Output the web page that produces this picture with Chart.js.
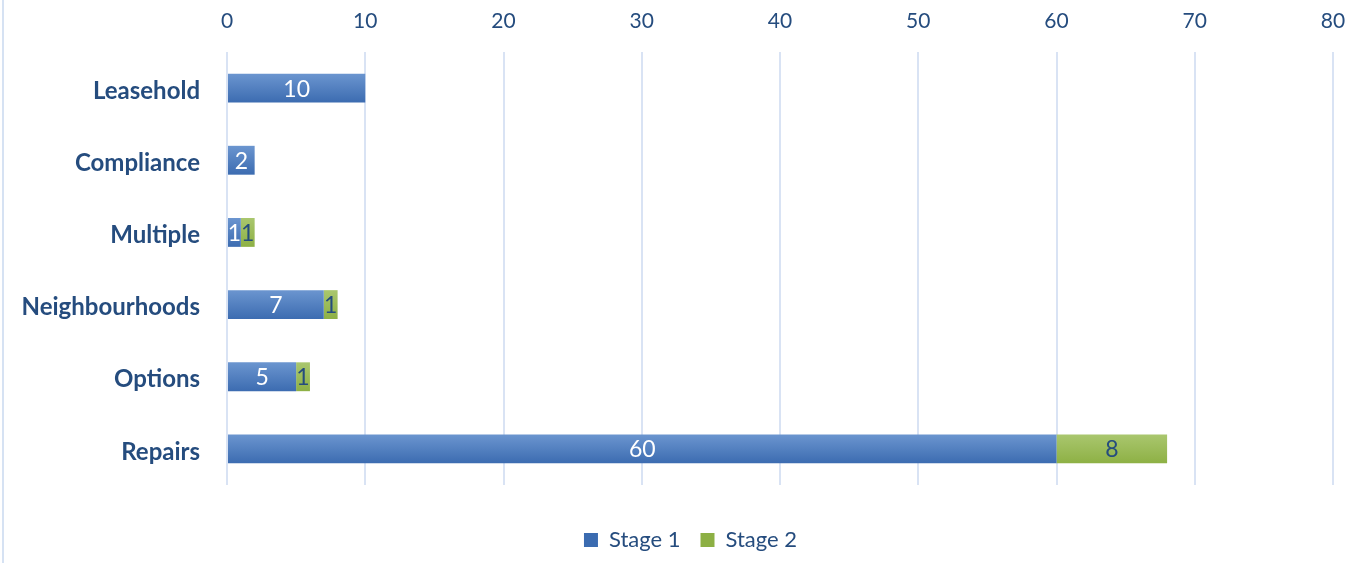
<!DOCTYPE html>
<html><head><meta charset="utf-8">
<script src="https://cdn.jsdelivr.net/npm/chart.js@4/dist/chart.umd.min.js"></script>
<style>html,body{margin:0;padding:0;background:#fff;}#wrap{width:1352px;height:563px;position:relative;}</style>
</head><body><div id="wrap"><canvas id="c" width="1352" height="563"></canvas></div>
<script>
const categories = ["Leasehold", "Compliance", "Multiple", "Neighbourhoods", "Options", "Repairs"];
const stage1 = [10, 2, 1, 7, 5, 60];
const stage2 = [0, 0, 1, 1, 1, 8];
const seriesNames = ["Stage 1", "Stage 2"];
const xTicks = [0, 10, 20, 30, 40, 50, 60, 70, 80];

const TEXT = '#254C7E';
const FONT = 'Lato';

function grad(top, bot, solid) {
  return function(ctx) {
    const chart = ctx.chart;
    if (ctx.type !== 'data' || !chart.chartArea || !chart.scales.y) return solid;
    const y = chart.scales.y.getPixelForValue(ctx.dataIndex);
    const h = 15;
    const g = chart.ctx.createLinearGradient(0, y - h, 0, y + h);
    g.addColorStop(0, top); g.addColorStop(1, bot);
    return g;
  };
}

const labelPlugin = {
  id: 'labels',
  beforeDraw(chart) {
    const c = chart.ctx; c.save();
    c.strokeStyle = '#D6E2F3'; c.lineWidth = 2;
    c.beginPath(); c.moveTo(3, 0); c.lineTo(3, chart.height); c.stroke();
    c.restore();
  },
  beforeLayout(chart) {
    const L = chart.legend;
    if (L && !L._patched) {
      const f = L.fit;
      L.fit = function() { f.call(this); this.height = 78; };
      const d = L.draw;
      L.draw = function() { const ctx = this.ctx; ctx.save(); ctx.translate(24, 24); d.call(this); ctx.restore(); };
      L._patched = true;
    }
  },
  afterDatasetsDraw(chart) {
    const c = chart.ctx; c.save();
    c.font = '23px ' + FONT; c.textAlign = 'center'; c.textBaseline = 'middle';
    chart.data.datasets.forEach((ds, di) => {
      const meta = chart.getDatasetMeta(di);
      meta.data.forEach((el, i) => {
        const v = ds.data[i];
        if (!v) return;
        c.fillStyle = di === 0 ? '#FFFFFF' : TEXT;
        c.fillText(String(v), (el.x + el.base) / 2, el.y + 1);
      });
    });
    c.restore();
  }
};

new Chart(document.getElementById('c'), {
  type: 'bar',
  data: {
    labels: categories,
    datasets: [
      { label: seriesNames[0], data: stage1, backgroundColor: grad('#6C96D0', '#3B6BB0', '#4A7BC0') },
      { label: seriesNames[1], data: stage2, backgroundColor: grad('#AAC76F', '#8DB044', '#9BBB59') }
    ]
  },
  options: {
    indexAxis: 'y',
    responsive: false,
    animation: false,
    layout: { padding: { left: 0, right: 19, top: 0, bottom: 0 } },
    datasets: { bar: { barPercentage: 0.4, categoryPercentage: 1.0 } },
    plugins: {
      legend: {
        position: 'bottom',
        labels: { boxWidth: 14, boxHeight: 14, padding: 20, color: TEXT, font: { family: FONT, size: 22 } }
      },
      tooltip: { enabled: false }
    },
    scales: {
      x: {
        position: 'top', stacked: true, min: 0, max: 80,
        afterBuildTicks(s) { s.ticks = xTicks.map(v => ({ value: v })); },
        afterFit(s) { s.height = 52; s.paddingLeft = 0; s.paddingRight = 0; },
        grid: { color: '#D9E3F4', lineWidth: 2, drawTicks: false },
        border: { display: false },
        ticks: { color: TEXT, font: { family: FONT, size: 21 }, padding: 18 }
      },
      y: {
        stacked: true,
        afterFit(s) { s.width = 227; s.paddingTop = 0; s.paddingBottom = 0; },
        grid: { display: false, drawTicks: false },
        border: { display: false },
        ticks: { color: TEXT, font: { family: FONT, size: 24, weight: 'bold' }, padding: 27, labelOffset: 3 }
      }
    }
  },
  plugins: [labelPlugin]
});
</script></body></html>
